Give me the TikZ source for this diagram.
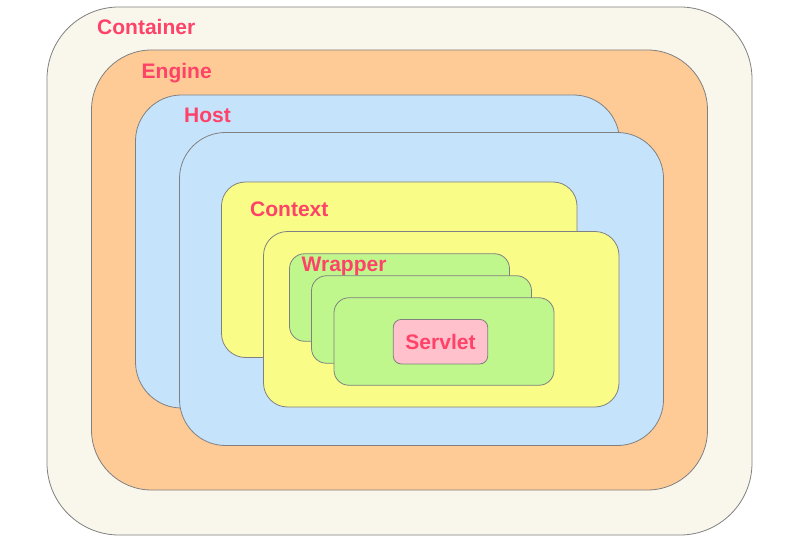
\documentclass[tikz,border=0pt]{standalone}
\usepackage{fontspec}
\setmainfont{Liberation Sans}
\usepackage{tikz}
\usetikzlibrary{positioning}
\usepackage{xcolor}
\definecolor{shellgrey}{HTML}{808080}
\definecolor{labelred}{HTML}{FF4268}
\definecolor{containerbg}{HTML}{F9F6EC}
\definecolor{enginebg}{HTML}{FECB97}
\definecolor{hostbg}{HTML}{C6E3FC}
\definecolor{contextbg}{HTML}{F9FD88}
\definecolor{wrapperbg}{HTML}{C0F78D}
\definecolor{servletbg}{HTML}{FFC1CB}

\begin{document}
\begin{tikzpicture}[
    x=1pt,y=-1pt,
    box/.style={draw=shellgrey,line width=0.8pt,inner sep=0pt},
    lbl/.style={anchor=base west,inner sep=0pt,text=labelred,font=\fontsize{21}{25}\selectfont\bfseries}
]
\useasboundingbox (0,0) rectangle (800,540);

\node[box,fill=containerbg,rounded corners=72pt,minimum width=705pt,minimum height=528pt] (container) at (399.5,271) {};
\node[lbl] (containerlbl) at (97,35) {Container};

\node[box,fill=enginebg,rounded corners=60pt,minimum width=616pt,minimum height=440pt] (engine) at (399.5,270) {};
\node[lbl] (enginelbl) at (141.5,79) {Engine};

\node[box,fill=hostbg,rounded corners=46pt,minimum width=484pt,minimum height=313pt] (hostA) at (377.5,251.5) {};
\node[lbl] (hostlbl) at (184,123) {Host};
\node[box,fill=hostbg,rounded corners=46pt,minimum width=484pt,minimum height=313pt] (hostB) at (421.5,289) {};

\node[box,fill=contextbg,rounded corners=24pt,minimum width=355.5pt,minimum height=175.5pt] (contextA) at (399.25,269.75) {};
\node[lbl] (contextlbl) at (250,216.5) {Context};
\node[box,fill=contextbg,rounded corners=24pt,minimum width=355.5pt,minimum height=175.5pt] (contextB) at (441.25,319.25) {};

\node[box,fill=wrapperbg,rounded corners=15pt,minimum width=220pt,minimum height=87.5pt] (wrapperA) at (399.5,297.5) {};
\node[lbl] (wrapperlbl) at (301.5,271.5) {Wrapper};
\node[box,fill=wrapperbg,rounded corners=15pt,minimum width=220pt,minimum height=87.5pt] (wrapperB) at (421.5,319.5) {};
\node[box,fill=wrapperbg,rounded corners=15pt,minimum width=220pt,minimum height=87.5pt] (wrapperC) at (444,341.5) {};

\node[box,fill=servletbg,rounded corners=8pt,minimum width=94.5pt,minimum height=44.5pt,
      text=labelred,font=\fontsize{21}{25}\selectfont\bfseries] (servlet) at (440.5,341.7) {Servlet};
\end{tikzpicture}
\end{document}
